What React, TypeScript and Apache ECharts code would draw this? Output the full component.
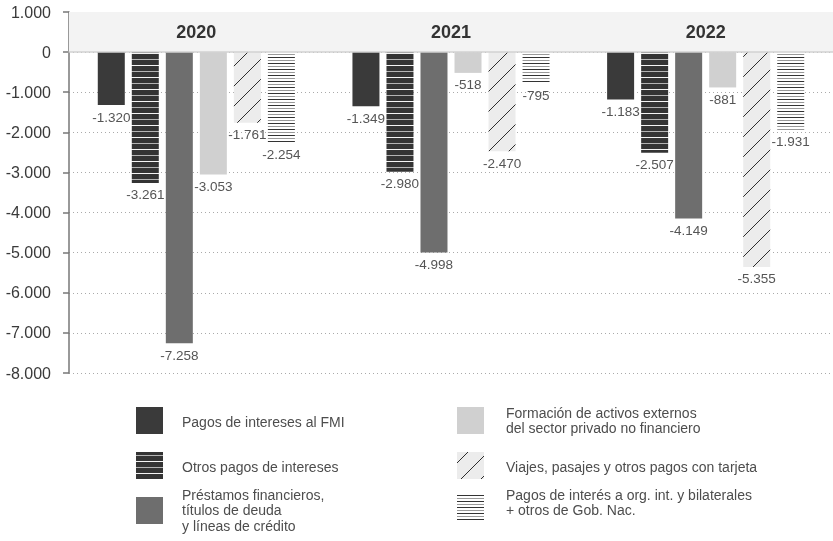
import React, { useEffect, useRef } from 'react';
import * as echarts from 'echarts';

const years = ['2020', '2021', '2022'];
const pagosFMI = [-1320, -1349, -1183];
const otrosPagosIntereses = [-3261, -2980, -2507];
const prestamosFinancieros = [-7258, -4998, -4149];
const formacionActivos = [-3053, -518, -881];
const viajesTarjeta = [-1761, -2470, -5355];
const pagosOrgInt = [-2254, -795, -1931];

const seriesNames = [
  'Pagos de intereses al FMI',
  'Otros pagos de intereses',
  'Préstamos financieros,\ntítulos de deuda\ny líneas de crédito',
  'Formación de activos externos\ndel sector privado no financiero',
  'Viajes, pasajes y otros pagos con tarjeta',
  'Pagos de interés a org. int. y bilaterales\n+ otros de Gob. Nac.',
];

const Y_MIN = -8000;
const Y_MAX = 1000;
const Y_STEP = 1000;

const FONT = '"Liberation Sans", Arial, Helvetica, sans-serif';

const fmt = (v: number) => {
  const s = Math.abs(Math.round(v)).toString().replace(/\B(?=(\d{3})+(?!\d))/g, '.');
  return (v < 0 ? '-' : '') + s;
};

function makePattern(w: number, h: number, draw: (ctx: CanvasRenderingContext2D) => void) {
  const c = document.createElement('canvas');
  c.width = w;
  c.height = h;
  const ctx = c.getContext('2d') as CanvasRenderingContext2D;
  draw(ctx);
  return { image: c.toDataURL(), repeat: 'repeat', imageWidth: w, imageHeight: h } as any;
}

function darkStripes() {
  return makePattern(4, 12, (ctx) => {
    ctx.fillStyle = '#343434';
    ctx.fillRect(0, 0, 4, 12);
    ctx.fillStyle = '#f4f4f4';
    ctx.fillRect(0, 5, 4, 1);
    ctx.fillStyle = '#b4b4b4';
    ctx.fillRect(0, 11, 4, 1);
  });
}

function thinLines() {
  return makePattern(4, 6, (ctx) => {
    ctx.fillStyle = '#ffffff';
    ctx.fillRect(0, 0, 4, 6);
    ctx.fillStyle = '#9a9a9a';
    ctx.fillRect(0, 0, 4, 1);
    ctx.fillStyle = '#333333';
    ctx.fillRect(0, 3, 4, 1);
  });
}

function diagonal() {
  return makePattern(20, 20, (ctx) => {
    ctx.fillStyle = '#ececec';
    ctx.fillRect(0, 0, 20, 20);
    ctx.strokeStyle = '#2e2e2e';
    ctx.lineWidth = 1;
    for (const k of [-20, 0, 20]) {
      ctx.beginPath();
      ctx.moveTo(k, 20);
      ctx.lineTo(k + 20, 0);
      ctx.stroke();
    }
  });
}

const GRID_TOP = 12;
const GRID_BOTTOM = 168;
const CHART_H = 541;

export default function App() {
  const ref = useRef<HTMLDivElement>(null);

  useEffect(() => {
    if (!ref.current) return;
    const chart = echarts.init(ref.current, null, { renderer: 'svg' });

    const fills: any[] = ['#3a3a3a', darkStripes(), '#6e6e6e', '#d0d0d0', diagonal(), thinLines()];
    const dataSets = [pagosFMI, otrosPagosIntereses, prestamosFinancieros, formacionActivos, viajesTarjeta, pagosOrgInt];

    // distance from top of grid to the zero line, so the year axis sits on zero
    const gridH = CHART_H - GRID_TOP - GRID_BOTTOM;
    const zeroOffset = (gridH * (Y_MAX - 0)) / (Y_MAX - Y_MIN);

    const series = dataSets.map((d, i) => ({
      name: seriesNames[i],
      type: 'bar',
      data: d,
      barWidth: 27,
      barGap: '26%',
      itemStyle: { color: fills[i] },
      label: {
        show: true,
        position: 'bottom',
        distance: 5,
        formatter: (p: any) => fmt(p.value),
        fontSize: 13.5,
        fontFamily: FONT,
        color: '#555',
      },
      ...(i === 0
        ? {
            markArea: {
              silent: true,
              itemStyle: { color: '#f3f3f3' },
              label: { show: false },
              data: [[{ yAxis: 0 }, { yAxis: Y_MAX }]],
            },
          }
        : {}),
    }));

    const legendCols = [
      { x: 136, tx: 182 },
      { x: 457, tx: 506 },
    ];
    const legendItems = [
      { col: 0, sy: 407, ty: 421.5 },
      { col: 0, sy: 452, ty: 466.5 },
      { col: 0, sy: 497, ty: 510 },
      { col: 1, sy: 407, ty: 420.5 },
      { col: 1, sy: 452, ty: 466.5 },
      { col: 1, sy: 494, ty: 502.5 },
    ];

    const graphic: any[] = [];
    legendItems.forEach((it, i) => {
      const c = legendCols[it.col];
      graphic.push({
        type: 'rect',
        shape: { x: c.x, y: it.sy, width: 27, height: 27 },
        style: { fill: fills[i] },
      });
      graphic.push({
        type: 'text',
        x: c.tx,
        y: it.ty,
        style: {
          text: seriesNames[i],
          fill: '#4d4d4d',
          fontSize: 14,
          fontFamily: FONT,
          lineHeight: 15.5,
          verticalAlign: 'middle',
          align: 'left',
        },
      });
    });

    chart.setOption({
      animation: false,
      textStyle: { fontFamily: FONT },
      grid: { left: 69, right: 0, top: GRID_TOP, bottom: GRID_BOTTOM, containLabel: false },
      xAxis: {
        type: 'category',
        data: years,
        position: 'top',
        offset: -zeroOffset,
        z: 10,
        axisLine: { onZero: false, lineStyle: { color: '#d2d2d2', width: 1.5 } },
        axisTick: { show: false },
        axisLabel: {
          margin: 11,
          fontSize: 18,
          fontWeight: 'bold',
          color: '#333',
          fontFamily: FONT,
        },
      },
      yAxis: {
        type: 'value',
        min: Y_MIN,
        max: Y_MAX,
        interval: Y_STEP,
        axisLine: { show: true, lineStyle: { color: '#777', width: 1.5 } },
        axisTick: { show: true, length: 6, lineStyle: { color: '#777', width: 1.5 } },
        axisLabel: { formatter: (v: number) => fmt(v), fontSize: 16, color: '#3a3a3a', margin: 18, fontFamily: FONT },
        splitLine: { lineStyle: { type: [1, 3], color: '#aaa', width: 1 } },
      },
      series,
      graphic,
    });

    return () => chart.dispose();
  }, []);

  return <div ref={ref} style={{ position: 'fixed', left: 0, top: 0, width: 833, height: 541 }} />;
}
